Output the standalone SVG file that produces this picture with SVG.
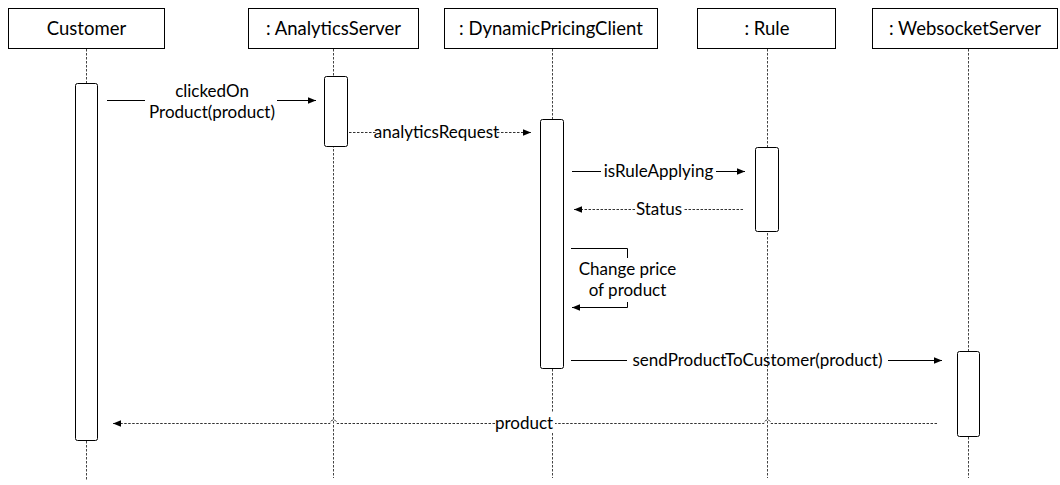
<svg xmlns="http://www.w3.org/2000/svg" width="1060" height="485" viewBox="0 0 1060 485">
  <defs>
    <marker id="arrow" viewBox="0 0 10 10" refX="10" refY="5" markerWidth="8" markerHeight="8" markerUnits="userSpaceOnUse" orient="auto">
      <path d="M0,1 L10,5 L0,9 Z" fill="#000"/>
    </marker>
    <style>
      .head { fill: #fff; stroke: #000; stroke-width: 1; }
      .head-label { font-family: Lato, "Liberation Sans", sans-serif; font-size: 18.5px; fill: #000; text-anchor: middle; }
      .life { fill: none; stroke: #444; stroke-width: 1; stroke-dasharray: 2.5 1.5; }
      .act { fill: #fff; stroke: #000; stroke-width: 1; }
      .msg { fill: none; stroke: #000; stroke-width: 1; }
      .reply { fill: none; stroke: #333; stroke-width: 1; stroke-dasharray: 2.5 1.5; }
      .label { font-family: Lato, "Liberation Sans", sans-serif; font-size: 17px; fill: #000; text-anchor: middle; }
    </style>
  </defs>
  <rect width="1060" height="485" fill="#fff"/>

  <!-- lifelines -->
  <g id="lifelines">
    <line class="life" x1="86.5" y1="49" x2="86.5" y2="480"/>
    <line class="life" x1="333.5" y1="49" x2="333.5" y2="478"/>
    <line class="life" x1="552.5" y1="49" x2="552.5" y2="478"/>
    <line class="life" x1="767.5" y1="49" x2="767.5" y2="478"/>
    <line class="life" x1="968.5" y1="49" x2="968.5" y2="478"/>
  </g>

  <!-- participants -->
  <g id="customer">
    <rect class="head" x="8.5" y="8.5" width="156" height="40"/>
    <text class="head-label" x="86.5" y="35">Customer</text>
    <rect class="act" x="75.5" y="83.5" width="22" height="357" rx="2"/>
  </g>
  <g id="analytics-server">
    <rect class="head" x="248.5" y="8.5" width="170" height="40"/>
    <text class="head-label" x="333.5" y="35">: AnalyticsServer</text>
    <rect class="act" x="324.5" y="76.5" width="23" height="70" rx="2"/>
  </g>
  <g id="dynamic-pricing-client">
    <rect class="head" x="444.5" y="8.5" width="213" height="40"/>
    <text class="head-label" x="551" y="35">: DynamicPricingClient</text>
    <rect class="act" x="540.5" y="119.5" width="23" height="249" rx="2"/>
  </g>
  <g id="rule">
    <rect class="head" x="697.5" y="8.5" width="138" height="40"/>
    <text class="head-label" x="767" y="35">: Rule</text>
    <rect class="act" x="755.5" y="147.5" width="23" height="84" rx="2"/>
  </g>
  <g id="websocket-server">
    <rect class="head" x="872.5" y="8.5" width="185" height="40"/>
    <text class="head-label" x="965" y="35">: WebsocketServer</text>
    <rect class="act" x="957.5" y="351.5" width="22" height="85" rx="2"/>
  </g>

  <!-- messages -->
  <g id="connectors">
    <!-- clickedOn Product(product) -->
    <line class="msg" x1="107" y1="100.5" x2="145" y2="100.5"/>
    <line class="msg" x1="277" y1="100.5" x2="316" y2="100.5" marker-end="url(#arrow)"/>
    <text class="label" x="212" y="97">clickedOn</text>
    <text class="label" x="212" y="118">Product(product)</text>

    <!-- analyticsRequest -->
    <line class="reply" x1="349" y1="132.5" x2="376" y2="132.5"/>
    <line class="reply" x1="497" y1="132.5" x2="531" y2="132.5" marker-end="url(#arrow)"/>
    <text class="label" x="436.5" y="138">analyticsRequest</text>

    <!-- isRuleApplying -->
    <line class="msg" x1="572" y1="171.5" x2="601" y2="171.5"/>
    <line class="msg" x1="716" y1="171.5" x2="745" y2="171.5" marker-end="url(#arrow)"/>
    <text class="label" x="658.5" y="177">isRuleApplying</text>

    <!-- Status -->
    <line class="reply" x1="743" y1="209.5" x2="683" y2="209.5"/>
    <line class="reply" x1="635" y1="209.5" x2="574" y2="209.5" marker-end="url(#arrow)"/>
    <text class="label" x="659" y="215">Status</text>

    <!-- Change price of product (self call) -->
    <polyline class="msg" points="571,248.5 627.5,248.5 627.5,307.5 572,307.5" marker-end="url(#arrow)"/>
    <rect x="580" y="258" width="95" height="44" fill="#fff"/>
    <text class="label" x="627.5" y="275">Change price</text>
    <text class="label" x="627.5" y="296">of product</text>

    <!-- sendProductToCustomer(product) -->
    <line class="msg" x1="571" y1="360.5" x2="627" y2="360.5"/>
    <line class="msg" x1="888" y1="360.5" x2="942" y2="360.5" marker-end="url(#arrow)"/>
    <text class="label" x="757.5" y="366">sendProductToCustomer(product)</text>

    <!-- product (return) with hops over crossed lifelines -->
    <path class="reply" d="M937,423.5 H771 a3.5,3.5 0 0 0 -7,0 H555"/>
    <path class="reply" d="M495,423.5 H337 a3.5,3.5 0 0 0 -7,0 H113" marker-end="url(#arrow)"/>
    <rect x="496" y="413" width="58" height="20" fill="#fff"/>
    <text class="label" x="524" y="429">product</text>
  </g>
</svg>
